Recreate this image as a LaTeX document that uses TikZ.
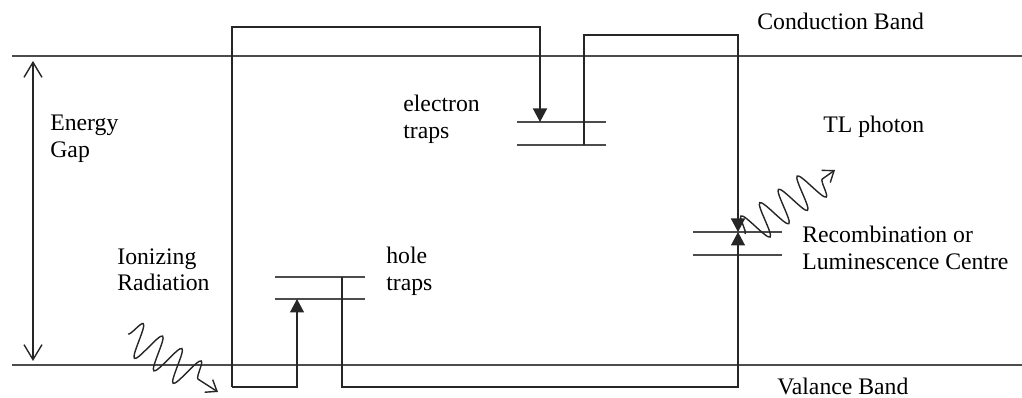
\documentclass[tikz,border=0pt]{standalone}
\usepackage{fontspec}
\setmainfont{Liberation Serif}
\usetikzlibrary{positioning,arrows.meta,decorations.pathmorphing}

\tikzset{
  lbl/.style={font=\fontsize{13.5}{15}\selectfont, align=left, inner sep=0pt},
  band/.style={draw=black!70, line width=0.8pt},
  level/.style={draw=black!70, line width=0.8pt},
  route/.style={draw=black!85, line width=0.8pt},
  trans/.style={route, -{Triangle[length=0.27cm,width=0.28cm]}},
  wave/.style={draw=black!85, line width=0.8pt, decorate,
    decoration={snake, amplitude=0.34cm, segment length=0.46cm, post length=0.3cm},
    -{Straight Barb[length=0.2cm,width=0.3cm]}}
}

\begin{document}
\begin{tikzpicture}[x=0.02cm, y=-0.02cm]
  \useasboundingbox (0,0) rectangle (1022,398);

  % Bande
  \coordinate (cbL) at (12,56);   \coordinate (cbR) at (1022,56);
  \coordinate (vbL) at (12,365);  \coordinate (vbR) at (1022,365);
  \draw[band] (cbL) -- (cbR);
  \draw[band] (vbL) -- (vbR);
  \node[lbl, anchor=base west] (cb) at (757,30) {Conduction Band};
  \node[lbl, anchor=base west] (vb) at (777,395) {Valance Band};

  % Energy gap
  \coordinate (gapT) at (33,61);  \coordinate (gapB) at (33,361);
  \draw[route, {Straight Barb[length=0.3cm,width=0.36cm]}-{Straight Barb[length=0.3cm,width=0.36cm]}] (gapB) -- (gapT);
  \node[lbl, anchor=north west] (gap) at (50,115) {Energy\\Gap};

  % Livelli (trappole e centro)
  \coordinate (et1L) at (517,122); \coordinate (et1R) at (606,122);
  \coordinate (et2L) at (517,145); \coordinate (et2R) at (606,145);
  \coordinate (ht1L) at (275,277); \coordinate (ht1R) at (365,277);
  \coordinate (ht2L) at (275,299); \coordinate (ht2R) at (365,299);
  \coordinate (rc1L) at (693,232); \coordinate (rc1R) at (782,232);
  \coordinate (rc2L) at (693,255); \coordinate (rc2R) at (782,255);
  \draw[level] (et1L) -- (et1R);
  \draw[level] (et2L) -- (et2R);
  \draw[level] (ht1L) -- (ht1R);
  \draw[level] (ht2L) -- (ht2R);
  \draw[level] (rc1L) -- (rc1R);
  \draw[level] (rc2L) -- (rc2R);
  \node[lbl, anchor=north west] (etl) at (403,95) {electron\\traps};
  \node[lbl, anchor=north west] (htl) at (386,247) {hole\\traps};
  \node[lbl, anchor=north west] (rcl) at (802,226) {Recombination or\\Luminescence Centre};

  % Transizioni
  \coordinate (pair) at (232,387);
  \coordinate (eUp) at (232,27);   \coordinate (eTop) at (540,27);
  \coordinate (eTrap) at (540,122);
  \coordinate (hBot) at (297,387); \coordinate (hTrap) at (297,299);
  \coordinate (eOut) at (584,145); \coordinate (eOutT) at (584,35);
  \coordinate (rTop) at (738,35);  \coordinate (rc) at (738,232);
  \coordinate (hOut) at (342,277); \coordinate (hOutB) at (342,387);
  \coordinate (rBot) at (738,387);
  \draw[trans] (pair) -- (eUp) -- (eTop) -- (eTrap);
  \draw[trans] (pair) -- (hBot) -- (hTrap);
  \draw[trans] (eOut) -- (eOutT) -- (rTop) -- (rc);
  \draw[trans] (hOut) -- (hOutB) -- (rBot) -- (rc);

  % Radiazione e fotone
  \coordinate (ionS) at (128,334); \coordinate (ionE) at (218,392);
  \coordinate (tlS) at (745,234);  \coordinate (tlE) at (835,170);
  \draw[wave] (ionS) -- (ionE);
  \draw[wave] (tlS) -- (tlE);
  \node[lbl, anchor=north west] (ion) at (117,248) {Ionizing\\Radiation};
  \node[lbl, anchor=base west] (tl) at (823,133) {TL photon};
\end{tikzpicture}
\end{document}
